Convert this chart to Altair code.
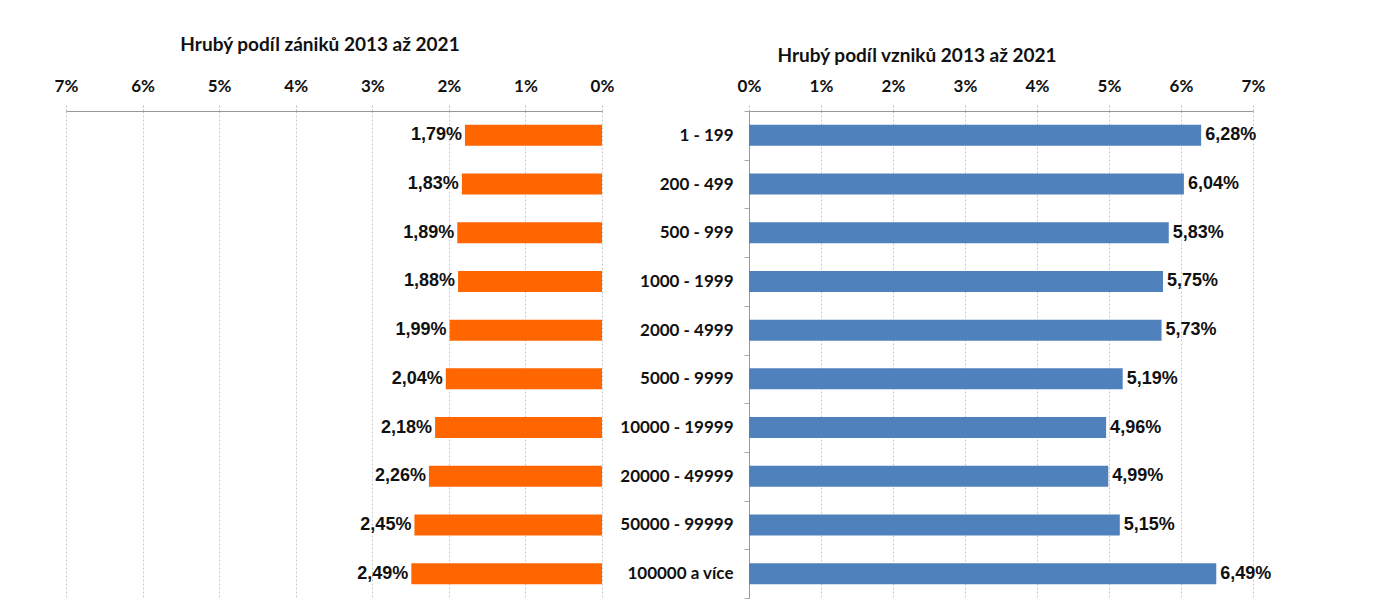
import altair as alt
import pandas as pd

categories = ["1 - 199", "200 - 499", "500 - 999", "1000 - 1999", "2000 - 4999",
              "5000 - 9999", "10000 - 19999", "20000 - 49999", "50000 - 99999",
              "100000 a více"]
zaniky = [1.79, 1.83, 1.89, 1.88, 1.99, 2.04, 2.18, 2.26, 2.45, 2.49]
vzniky = [6.28, 6.04, 5.83, 5.75, 5.73, 5.19, 4.96, 4.99, 5.15, 6.49]
tick_values = [0, 1, 2, 3, 4, 5, 6, 7]


def fmt(v):
    return f"{v:.2f}".replace(".", ",") + "%"


df = pd.DataFrame({"kat": categories, "zaniky": zaniky, "vzniky": vzniky})
df["zl"] = [fmt(v) for v in zaniky]
df["vl"] = [fmt(v) for v in vzniky]

W_L, W_R, H = 536, 504, 487
FONT = "Lato"
LBLFONT = "Liberation Sans"


def xaxis():
    return alt.Axis(orient="top", values=tick_values, labelExpr="datum.value + '%'",
                    title=None, labelFont=FONT, labelFontSize=17, labelFontWeight="bold",
                    labelColor="#111", labelPadding=10, labelFlush=False, tickSize=6,
                    tickColor="#bbb", tickDash=[2, 2], domainColor="#999", grid=True,
                    gridColor="#c8c8c8", gridDash=[2, 2])


yscale = alt.Scale(paddingInner=0, paddingOuter=0)

base_l = alt.Chart(df).encode(
    y=alt.Y("kat:N", sort=categories, axis=None, scale=yscale),
    x=alt.X("zaniky:Q", scale=alt.Scale(domain=[0, 7], reverse=True, nice=False), axis=xaxis()),
)
left = alt.layer(
    base_l.mark_bar(color="#FF6600", size=21),
    base_l.mark_text(align="right", baseline="middle", dx=-3, font=LBLFONT,
                     fontSize=18, fontWeight="bold", color="#111").encode(text="zl:N"),
).properties(
    width=W_L, height=H,
    title=alt.TitleParams(text="Hrubý podíl zániků 2013 až 2021", font=FONT, fontSize=19,
                          fontWeight="bold", color="#111", anchor="middle", frame="group",
                          dx=-14, offset=22),
)

base_r = alt.Chart(df).encode(
    y=alt.Y("kat:N", sort=categories, scale=yscale,
            axis=alt.Axis(title=None, labelFont=FONT, labelFontSize=17, labelFontWeight="bold",
                          labelColor="#111", tickBand="extent", tickSize=5, tickColor="#aaa",
                          domainColor="#999", labelPadding=11, grid=False)),
    x=alt.X("vzniky:Q", scale=alt.Scale(domain=[0, 7], nice=False), axis=xaxis()),
)
right = alt.layer(
    base_r.mark_bar(color="#4F81BD", size=21),
    base_r.mark_text(align="left", baseline="middle", dx=4, font=LBLFONT,
                     fontSize=18, fontWeight="bold", color="#111").encode(text="vl:N"),
).properties(
    width=W_R, height=H,
    title=alt.TitleParams(text="Hrubý podíl vzniků 2013 až 2021", font=FONT, fontSize=19,
                          fontWeight="bold", color="#111", anchor="middle", frame="group",
                          dx=-84, dy=11, offset=22),
)

chart = alt.hconcat(left, right, spacing=147, bounds="flush").properties(
    padding={"left": 46, "top": 28, "right": 5, "bottom": 0}
).configure_view(stroke=None)

chart.save("out.html", embed_options={"renderer": "svg", "actions": False})
